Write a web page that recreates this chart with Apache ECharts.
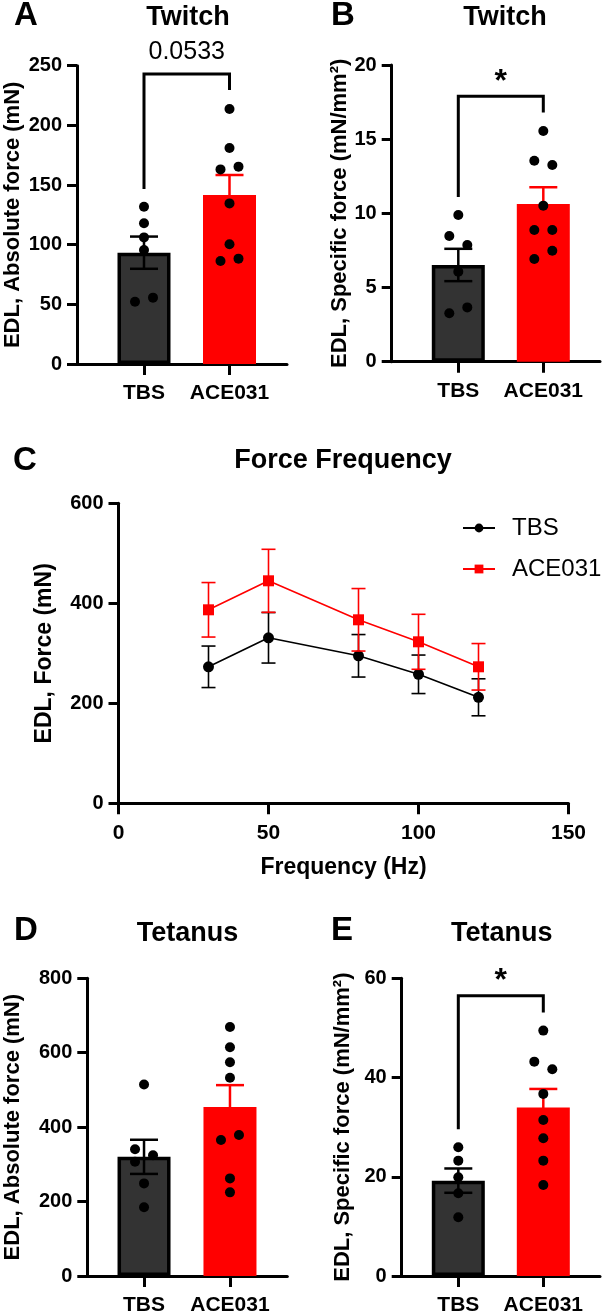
<!DOCTYPE html>
<html><head><meta charset="utf-8">
<script src="https://cdn.jsdelivr.net/npm/echarts@6/dist/echarts.min.js"></script>
<style>html,body{margin:0;padding:0;background:#fff}#c{width:604px;height:1316px}</style>
</head><body><div id="c"></div>
<script>
// ---------- DATA ----------
const groups = ['TBS', 'ACE031'];

// A: Twitch, absolute force (mN)
const twitchAbsTBS = [131.8, 117.9, 106.1, 95.5, 52.2, 55.6];
const twitchAbsACE = [213.7, 181.0, 163.1, 165.4, 134.6, 100.3, 86.3, 88.3];
const twitchAbsMean = [93.3, 141.6];
const twitchAbsSEM = [13.5, 16.8];
const twitchAbsBracket = [243, 146.7, 229.7];   // top, TBS leg end, ACE031 leg end
const twitchAbsSig = '0.0533';

// B: Twitch, specific force (mN/mm2)
const twitchSpecTBS = [9.89, 8.47, 7.87, 6.07, 3.26, 3.66];
const twitchSpecACE = [15.55, 13.55, 13.26, 10.52, 8.88, 8.88, 6.92, 7.48];
const twitchSpecMean = [6.52, 10.63];
const twitchSpecSEM = [1.09, 1.13];
const twitchSpecBracket = [17.9, 11.1, 16.8];
const twitchSpecSig = '*';

// C: Force frequency
const freqHz = [30, 50, 80, 100, 120];
const ffTBSMean = [273, 331, 295, 258, 212];
const ffTBSSEM = [41.5, 50.5, 42.5, 38.5, 37];
const ffACEMean = [387, 445, 367, 323, 273];
const ffACESEM = [54.5, 63, 62.5, 55, 46.5];

// D: Tetanus, absolute force (mN)
const tetAbsTBS = [514.7, 340.8, 324.7, 306.9, 248.9, 184.7];
const tetAbsACE = [669.0, 614.6, 574.5, 532.6, 365.7, 379.1, 262.3, 224.8];
const tetAbsMean = [320.2, 454.0];
const tetAbsSEM = [45.9, 58.9];

// E: Tetanus, specific force (mN/mm2)
const tetSpecTBS = [25.94, 23.25, 19.9, 16.67, 11.83];
const tetSpecACE = [49.46, 43.2, 41.67, 36.7, 31.45, 27.75, 23.25, 18.35];
const tetSpecMean = [19.22, 33.94];
const tetSpecSEM = [2.45, 3.76];
const tetSpecBracket = [56.5, 29.6, 53.1];
const tetSpecSig = '*';

// ---------- STYLE / LAYOUT ----------
const FONT = '"Liberation Sans", Arial, Helvetica, sans-serif';
const BLACK = '#000000', DARK = '#333333', RED = '#ff0000';

const panels = [
  {grid:{left:77, top:65.7, width:210, height:298.3}, xMin:0.2164, xMax:2.6725, yMax:250, yInt:50,
   yName:'EDL, Absolute force (mN)', nameGap:53, tbs:twitchAbsTBS, ace:twitchAbsACE,
   mean:twitchAbsMean, sem:twitchAbsSEM, bracket:twitchAbsBracket, sig:twitchAbsSig},
  {grid:{left:391.7, top:65, width:208.3, height:296.7}, xMin:0.2165, xMax:2.667, yMax:20, yInt:5,
   yName:'EDL, Specific force (mN/mm²)', nameGap:37, tbs:twitchSpecTBS, ace:twitchSpecACE,
   mean:twitchSpecMean, sem:twitchSpecSEM, bracket:twitchSpecBracket, sig:twitchSpecSig},
  {grid:{left:87.3, top:978.3, width:200, height:299}, xMin:0.34, xMax:2.667, yMax:800, yInt:200,
   yName:'EDL, Absolute force (mN)', nameGap:63, tbs:tetAbsTBS, ace:tetAbsACE,
   mean:tetAbsMean, sem:tetAbsSEM, bracket:null, sig:null},
  {grid:{left:401.7, top:978.3, width:198.3, height:297.7}, xMin:0.334, xMax:2.667, yMax:60, yInt:20,
   yName:'EDL, Specific force (mN/mm²)', nameGap:48, tbs:tetSpecTBS, ace:tetSpecACE,
   mean:tetSpecMean, sem:tetSpecSEM, bracket:tetSpecBracket, sig:tetSpecSig}
];

const axisLineStyle = {color: BLACK, width: 3};
const tickLabel = {fontSize: 20, fontWeight: 'bold', color: BLACK, fontFamily: FONT};

// Spread overlapping dots sideways (alternating left / right within a cluster)
function jitter(vals, pxPerUnit, thr, step) {
  const n = vals.length, parent = vals.map((_, i) => i);
  const find = i => parent[i] === i ? i : (parent[i] = find(parent[i]));
  for (let i = 0; i < n; i++) for (let j = i + 1; j < n; j++)
    if (Math.abs(vals[i] - vals[j]) * pxPerUnit < thr) parent[find(j)] = find(i);
  const groupsMap = {};
  vals.forEach((_, i) => { const r = find(i); (groupsMap[r] = groupsMap[r] || []).push(i); });
  const off = vals.map(() => 0);
  Object.values(groupsMap).forEach(g => {
    if (g.length > 1) g.forEach((idx, k) => { off[idx] = (k % 2 === 0 ? -1 : 1) * step; });
  });
  return off;
}

const grids = [], xAxes = [], yAxes = [], series = [];

panels.forEach((p, i) => {
  grids.push(Object.assign({containLabel: false}, p.grid));
  xAxes.push({
    type: 'value', gridIndex: i, min: p.xMin, max: p.xMax,
    axisLine: {show: true, onZero: false, lineStyle: axisLineStyle},
    splitLine: {show: false},
    axisTick: {show: true, customValues: [1, 2], length: 11, lineStyle: {color: BLACK, width: 3}},
    axisLabel: {customValues: [1, 2], formatter: v => groups[Math.round(v) - 1] || '', margin: 19,
                fontSize: 21, fontWeight: 'bold', color: BLACK, fontFamily: FONT}
  });
  yAxes.push({
    type: 'value', gridIndex: i, min: 0, max: p.yMax, interval: p.yInt,
    axisLine: {show: true, onZero: false, lineStyle: axisLineStyle},
    axisTick: {show: true, length: 10, lineStyle: {color: BLACK, width: 3}},
    splitLine: {show: false},
    axisLabel: Object.assign({margin: 15}, tickLabel),
    name: p.yName, nameLocation: 'middle', nameRotate: 90, nameGap: p.nameGap,
    nameTextStyle: {fontSize: 22, fontWeight: 'bold', color: BLACK, fontFamily: FONT}
  });
  // bars
  series.push({
    type: 'bar', name: 'bars' + i, xAxisIndex: i, yAxisIndex: i, barWidth: 53, z: 2,
    data: [
      {value: [1, p.mean[0]], itemStyle: {color: DARK, borderColor: BLACK, borderWidth: 3.5}},
      {value: [2, p.mean[1]], itemStyle: {color: RED, borderColor: RED, borderWidth: 3}}
    ]
  });
  // SEM error bars
  series.push({
    type: 'custom', name: 'sem' + i, xAxisIndex: i, yAxisIndex: i, z: 3, clip: false,
    data: p.mean.map((m, k) => [k + 1, m - p.sem[k], m + p.sem[k]]),
    encode: {x: 0, y: [1, 2]},
    renderItem: (params, api) => {
      const x = api.value(0);
      const lo = api.coord([x, api.value(1)]), hi = api.coord([x, api.value(2)]);
      const c = params.dataIndex === 0 ? BLACK : RED, cw = 14, st = {stroke: c, lineWidth: 2.5};
      return {type: 'group', children: [
        {type: 'line', shape: {x1: lo[0], y1: lo[1], x2: hi[0], y2: hi[1]}, style: st},
        {type: 'line', shape: {x1: hi[0] - cw, y1: hi[1], x2: hi[0] + cw, y2: hi[1]}, style: st},
        {type: 'line', shape: {x1: lo[0] - cw, y1: lo[1], x2: lo[0] + cw, y2: lo[1]}, style: st}
      ]};
    }
  });
  // individual points
  const ppu = p.grid.height / p.yMax;
  [p.tbs, p.ace].forEach((vals, g) => {
    const off = jitter(vals, ppu, 10, 9);
    series.push({
      type: 'scatter', name: 'pts' + i + '_' + g, xAxisIndex: i, yAxisIndex: i, z: 4,
      symbol: 'circle', symbolSize: 10, itemStyle: {color: BLACK, opacity: 1},
      data: vals.map((v, k) => ({value: [g + 1, v], symbolOffset: [off[k], 0]}))
    });
  });
  // significance bracket
  if (p.bracket) {
    const bold = p.sig === '*';
    series.push({
      type: 'custom', name: 'sig' + i, xAxisIndex: i, yAxisIndex: i, z: 5, clip: false,
      data: [[1, 2, p.bracket[0], p.bracket[1], p.bracket[2]]],
      encode: {x: [0, 1], y: [2, 3, 4]},
      renderItem: (params, api) => {
        const x1 = api.value(0), x2 = api.value(1);
        const a = api.coord([x1, api.value(3)]), b = api.coord([x1, api.value(2)]);
        const c = api.coord([x2, api.value(2)]), d = api.coord([x2, api.value(4)]);
        const tx = (b[0] + c[0]) / 2, ty = b[1] - (bold ? 14 : 22);
        return {type: 'group', children: [
          {type: 'polyline', shape: {points: [a, b, c, d]},
           style: {stroke: BLACK, lineWidth: 3, fill: 'none', lineJoin: 'miter'}},
          {type: 'text', x: tx, y: ty,
           style: {text: p.sig, fill: BLACK, align: 'center', verticalAlign: 'middle',
                   textAlign: 'center', textVerticalAlign: 'middle',
                   font: (bold ? 'bold 32px ' : '25px ') + FONT}}
        ]};
      }
    });
  }
});

// ---- Panel C (force-frequency) ----
const ci = panels.length;
grids.push({left: 118.5, top: 503.3, width: 450, height: 300});
xAxes.push({
  type: 'value', gridIndex: ci, min: 0, max: 150, interval: 50,
  axisLine: {show: true, onZero: false, lineStyle: axisLineStyle},
  axisTick: {show: true, length: 11, lineStyle: {color: BLACK, width: 3}},
  splitLine: {show: false},
  axisLabel: Object.assign({margin: 19}, tickLabel, {fontSize: 21}),
  name: 'Frequency (Hz)', nameLocation: 'middle', nameGap: 53,
  nameTextStyle: {fontSize: 23, fontWeight: 'bold', color: BLACK, fontFamily: FONT}
});
yAxes.push({
  type: 'value', gridIndex: ci, min: 0, max: 600, interval: 200,
  axisLine: {show: true, onZero: false, lineStyle: axisLineStyle},
  axisTick: {show: true, length: 10, lineStyle: {color: BLACK, width: 3}},
  splitLine: {show: false},
  axisLabel: Object.assign({margin: 15}, tickLabel),
  name: 'EDL, Force (mN)', nameLocation: 'middle', nameRotate: 90, nameGap: 62,
  nameTextStyle: {fontSize: 23, fontWeight: 'bold', color: BLACK, fontFamily: FONT}
});
function ffErr(name, means, sems, color, z) {
  return {
    type: 'custom', name: name, xAxisIndex: ci, yAxisIndex: ci, z: z, clip: false,
    data: freqHz.map((f, k) => [f, means[k] - sems[k], means[k] + sems[k]]),
    encode: {x: 0, y: [1, 2]},
    renderItem: (params, api) => {
      const x = api.value(0);
      const lo = api.coord([x, api.value(1)]), hi = api.coord([x, api.value(2)]);
      const cw = 7, st = {stroke: color, lineWidth: 1.6};
      return {type: 'group', children: [
        {type: 'line', shape: {x1: lo[0], y1: lo[1], x2: hi[0], y2: hi[1]}, style: st},
        {type: 'line', shape: {x1: hi[0] - cw, y1: hi[1], x2: hi[0] + cw, y2: hi[1]}, style: st},
        {type: 'line', shape: {x1: lo[0] - cw, y1: lo[1], x2: lo[0] + cw, y2: lo[1]}, style: st}
      ]};
    }
  };
}
series.push(ffErr('errTBS', ffTBSMean, ffTBSSEM, BLACK, 2));
series.push({
  type: 'line', name: 'TBS', xAxisIndex: ci, yAxisIndex: ci, z: 3,
  symbol: 'circle', symbolSize: 11, color: BLACK,
  lineStyle: {color: BLACK, width: 1.6}, itemStyle: {color: BLACK},
  data: freqHz.map((f, k) => [f, ffTBSMean[k]])
});
series.push(ffErr('errACE', ffACEMean, ffACESEM, RED, 4));
series.push({
  type: 'line', name: 'ACE031', xAxisIndex: ci, yAxisIndex: ci, z: 5,
  symbol: 'rect', symbolSize: 11, color: RED,
  lineStyle: {color: RED, width: 1.6}, itemStyle: {color: RED},
  data: freqHz.map((f, k) => [f, ffACEMean[k]])
});

// ---------- TEXT ----------
function txt(t, x, y, size, weight) {
  return {type: 'text', x: x, y: y, silent: true,
    style: {text: t, fill: BLACK, align: 'center', verticalAlign: 'middle',
            textAlign: 'center', textVerticalAlign: 'middle',
            font: (weight || 'bold') + ' ' + size + 'px ' + FONT}};
}
const graphics = [
  txt('A', 26, 16, 33), txt('B', 343, 16, 33), txt('C', 25, 461, 33),
  txt('D', 26, 931, 33), txt('E', 342, 931, 33),
  txt('Twitch', 188, 18, 27), txt('Twitch', 505, 18, 27),
  txt('Force Frequency', 343, 461, 27),
  txt('Tetanus', 187.5, 934, 27), txt('Tetanus', 501.7, 934, 27)
];

const chart = echarts.init(document.getElementById('c'), null, {renderer: 'canvas'});
chart.setOption({
  animation: false,
  backgroundColor: '#ffffff',
  textStyle: {fontFamily: FONT},
  grid: grids, xAxis: xAxes, yAxis: yAxes, series: series,
  legend: {
    data: ['TBS', 'ACE031'], orient: 'vertical', left: 457, top: 511,
    itemWidth: 32, itemHeight: 11, itemGap: 17,
    textStyle: {fontSize: 24, color: BLACK, fontFamily: FONT, padding: [0, 0, 0, 12]}
  },
  graphic: graphics
});
</script></body></html>
